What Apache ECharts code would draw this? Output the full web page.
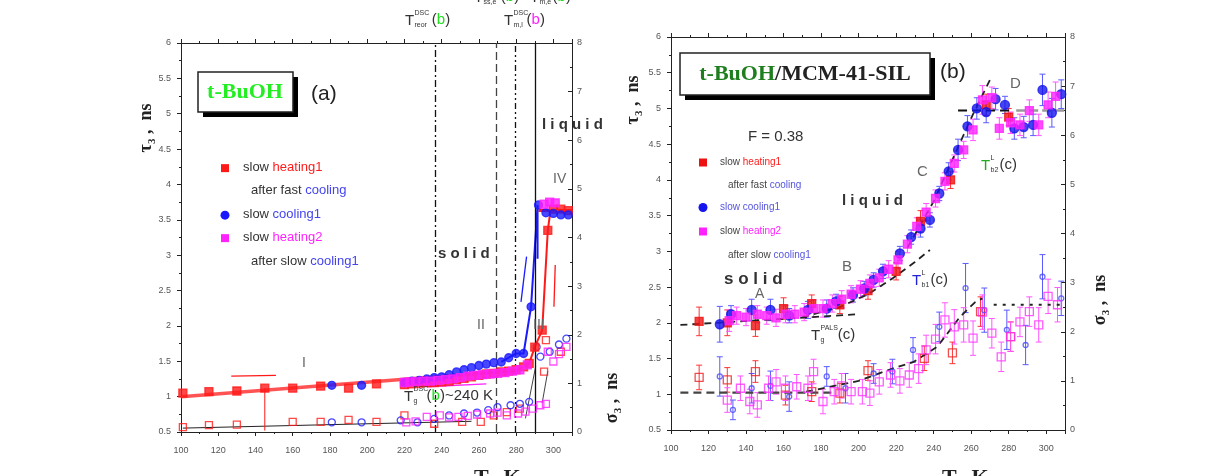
<!DOCTYPE html>
<html>
<head>
<meta charset="utf-8">
<title>t-BuOH PALS</title>
<script src="https://cdn.jsdelivr.net/npm/echarts@6/dist/echarts.min.js"></script>
<style>
  html, body { margin: 0; background: #fff; }
  #chart { width: 1224px; height: 476px; }
</style>
</head>
<body>
<div id="chart"></div>
<script>
// ---------- panel (a): bulk t-BuOH ----------
// tau3 (left axis, ns)
const heat1A_T   = [101, 115, 130, 145, 160, 175, 190, 205, 220, 224, 228, 232, 236, 240, 244, 248, 252, 256, 260, 264, 268, 272, 276, 280, 284, 287, 290, 294, 297, 300, 304, 308];
const heat1A_tau = [1.05, 1.07, 1.08, 1.12, 1.12, 1.15, 1.12, 1.18, 1.17, 1.18, 1.19, 1.2, 1.2, 1.21, 1.22, 1.24, 1.26, 1.28, 1.3, 1.32, 1.33, 1.35, 1.36, 1.38, 1.42, 1.47, 1.7, 1.94, 3.35, 3.65, 3.65, 3.63];
const cool1A_T   = [181, 197, 220, 224, 228, 232, 236, 240, 244, 248, 252, 256, 260, 264, 268, 272, 276, 280, 284, 288, 292, 296, 300, 304, 308];
const cool1A_tau = [1.16, 1.16, 1.2, 1.22, 1.23, 1.25, 1.27, 1.28, 1.31, 1.35, 1.38, 1.41, 1.44, 1.46, 1.48, 1.49, 1.55, 1.61, 1.61, 2.27, 3.71, 3.6, 3.59, 3.57, 3.57];
const heat2A_T   = [220, 223, 226, 230, 234, 238, 242, 246, 250, 254, 258, 262, 266, 270, 274, 278, 282, 286, 295, 298, 301];
const heat2A_tau = [1.2, 1.21, 1.21, 1.22, 1.22, 1.23, 1.24, 1.25, 1.27, 1.29, 1.3, 1.31, 1.32, 1.33, 1.34, 1.36, 1.38, 1.45, 3.72, 3.75, 3.74];
// sigma3 (right axis, ns)
const heat1A_sT  = [101, 115, 130, 160, 175, 190, 205, 220, 236, 251, 261, 268, 275, 282, 295, 296, 304];
const heat1A_sig = [0.1, 0.14, 0.15, 0.21, 0.21, 0.25, 0.21, 0.34, 0.17, 0.21, 0.21, 0.34, 0.41, 0.48, 1.24, 1.89, 1.65];
const cool1A_sT  = [181, 197, 218, 227, 236, 244, 252, 259, 265, 270, 277, 282, 287, 291, 293, 298, 303, 307];
const cool1A_sig = [0.2, 0.2, 0.24, 0.2, 0.27, 0.34, 0.38, 0.4, 0.45, 0.51, 0.55, 0.58, 0.62, 1.75, 1.55, 1.65, 1.8, 1.92];
const heat2A_sT  = [221, 226, 232, 239, 244, 249, 254, 259, 266, 270, 275, 281, 285, 289, 293, 296, 297, 300, 303, 307];
const heat2A_sig = [0.2, 0.22, 0.31, 0.34, 0.3, 0.31, 0.33, 0.36, 0.38, 0.4, 0.34, 0.38, 0.42, 0.48, 0.55, 0.58, 1.65, 1.45, 1.6, 1.75];
// guide lines / fits
const fitA_red   = [[100, 1.0], [280, 1.37]];
const jumpA_red  = [[280, 1.37], [287, 1.47], [290, 1.7], [294, 1.94], [297, 3.35], [298.5, 3.64]];
const liqA_red   = [[292, 3.63], [310, 3.63]];
const jumpA_blue = [[272, 1.49], [280, 1.61], [284, 1.61], [288, 2.27], [291.5, 3.71], [291.5, 2.95]];
const guideA_up  = [[250, 1.3], [281, 1.36]];
const guideA_low = [[101, 0.08], [256, 0.22]];
const jumpA_low1 = [[285, 0.28], [290.5, 1.35]];
const jumpA_low2 = [[294, 0.6], [297, 1.25]];
const vlinesA    = [236.5, 269.4, 279.6, 290.3];
// arrows (start -> end)
const arrowA_red1 = [[127, 1.29], [151, 1.3]];
const arrowA_mag  = [[232, 1.14], [264, 1.18]];
const arrowA_blue = [[285.6, 2.98], [282.6, 2.34]];
const arrowA_red2 = [[300.3, 2.27], [301, 2.86]];
const barA_red    = [[145, 1.12], [145, 0.52]];

// ---------- panel (b): t-BuOH / MCM-41-SIL ----------
const heat1B_T   = [115, 130, 145, 160, 175, 190, 205, 220, 233, 249, 268, 280];
const heat1B_tau = [2.02, 2.0, 1.96, 2.2, 2.27, 2.25, 2.45, 2.72, 3.42, 4.0, 5.05, 4.88];
const heat1B_err = [0.2, 0.18, 0.15, 0.15, 0.12, 0.12, 0.12, 0.12, 0.15, 0.12, 0.15, 0.12];
const cool1B_T   = [126, 132, 143, 153, 163, 173, 183, 188, 197, 203, 208, 213, 222, 228, 233, 238, 243, 248, 253, 258, 263, 268, 273, 278, 283, 288, 293, 298, 303, 308];
const cool1B_tau = [1.98, 2.12, 2.18, 2.18, 2.1, 2.18, 2.2, 2.3, 2.39, 2.48, 2.6, 2.72, 2.97, 3.2, 3.32, 3.44, 3.81, 4.12, 4.42, 4.75, 5.0, 4.95, 5.13, 5.05, 4.72, 4.74, 4.77, 5.26, 4.94, 5.2];
const cool1B_err = [0.25, 0.12, 0.15, 0.15, 0.1, 0.12, 0.12, 0.1, 0.1, 0.1, 0.1, 0.1, 0.1, 0.1, 0.12, 0.1, 0.1, 0.12, 0.15, 0.15, 0.15, 0.15, 0.15, 0.12, 0.15, 0.15, 0.15, 0.22, 0.2, 0.2];
const heat2B_T   = [131, 135, 140, 146, 151, 156, 161, 166, 171, 176, 181, 186, 191, 196, 201, 206, 211, 216, 221, 226, 231, 236, 241, 246, 251, 256, 261, 266, 271, 275, 281, 286, 291, 296, 301, 305];
const heat2B_tau = [2.03, 2.1, 2.08, 2.12, 2.1, 2.07, 2.12, 2.12, 2.15, 2.2, 2.2, 2.27, 2.33, 2.4, 2.47, 2.55, 2.63, 2.75, 2.88, 3.1, 3.35, 3.55, 3.74, 3.98, 4.23, 4.42, 4.7, 5.12, 5.15, 4.72, 4.8, 4.77, 4.97, 4.77, 5.05, 5.17];
const heat2B_err = [0.15, 0.12, 0.12, 0.12, 0.12, 0.12, 0.12, 0.12, 0.12, 0.12, 0.12, 0.12, 0.12, 0.12, 0.12, 0.12, 0.12, 0.12, 0.12, 0.12, 0.12, 0.12, 0.12, 0.12, 0.12, 0.12, 0.15, 0.2, 0.15, 0.15, 0.15, 0.15, 0.15, 0.15, 0.18, 0.2];
const heat1B_sT  = [115, 130, 145, 161, 175, 190, 205, 235, 250, 265, 281];
const heat1B_sig = [1.07, 1.02, 1.19, 0.71, 0.78, 0.75, 1.21, 1.46, 1.57, 2.41, 1.9];
const heat1B_sErr = [0.25, 0.25, 0.22, 0.2, 0.2, 0.2, 0.2, 0.25, 0.22, 0.3, 0.3];
const cool1B_sT  = [126, 133, 143, 153, 163, 183, 193, 208, 218, 229, 243, 257, 267, 279, 289, 298, 308];
const cool1B_sig = [1.09, 0.41, 0.85, 0.9, 0.68, 1.09, 0.85, 1.15, 1.19, 1.63, 2.1, 2.89, 2.44, 2.04, 1.73, 3.12, 2.68];
const cool1B_sErr = [0.4, 0.2, 0.3, 0.3, 0.3, 0.2, 0.3, 0.2, 0.25, 0.25, 0.3, 0.5, 0.45, 0.4, 0.4, 0.45, 0.35];
const heat2B_sT  = [130, 137, 142, 146, 152, 156, 161, 167, 173, 176, 181, 187, 191, 196, 202, 206, 211, 217, 222, 227, 232, 236, 241, 246, 251, 256, 261, 266, 271, 276, 281, 286, 291, 296, 301, 306];
const heat2B_sig = [0.61, 0.85, 0.58, 0.51, 0.85, 0.98, 0.85, 0.88, 0.85, 1.19, 0.58, 0.78, 0.9, 0.78, 0.78, 0.75, 0.98, 1.12, 1.0, 1.12, 1.25, 1.63, 1.85, 2.24, 2.1, 2.14, 1.87, 2.4, 1.97, 1.49, 1.9, 2.2, 2.41, 2.14, 2.72, 2.55];
const heat2B_sErr = [0.25, 0.25, 0.25, 0.25, 0.25, 0.25, 0.25, 0.25, 0.25, 0.25, 0.25, 0.25, 0.25, 0.25, 0.25, 0.25, 0.25, 0.25, 0.25, 0.25, 0.3, 0.3, 0.3, 0.35, 0.35, 0.35, 0.35, 0.35, 0.3, 0.3, 0.3, 0.3, 0.3, 0.35, 0.35, 0.35];
// dashed fits
const fitB_flat   = [[105, 1.97], [200, 2.12]];
const fitB_rise   = [[170, 2.08], [190, 2.22], [205, 2.4], [218, 2.62], [230, 2.85], [238, 3.02]];
const fitB_C      = [[226, 3.05], [240, 3.7], [252, 4.4], [261, 4.92], [270, 5.4]];
const fitB_D1     = [[253, 4.97], [281, 4.97]];
const fitB_D2     = [[284, 4.97], [310, 4.97]];
const fitB_sFlat  = [[105, 0.76], [186, 0.76]];
const fitB_sRise  = [[172, 0.78], [200, 1.0], [218, 1.25], [229, 1.38], [242, 1.7], [254, 2.3], [262, 2.6], [266, 2.68]];
const fitB_sTop   = [[272, 2.55], [310, 2.55]];

// ticks
const T_MIN = 100, T_MAX = 310, T_STEP = 20;
const TAU_MIN = 0.5, TAU_MAX = 6, TAU_STEP = 0.5;
const SIG_MIN = 0, SIG_MAX = 8, SIG_STEP = 1;

const RED = '#ff1a1a', BLUE = '#1a1aff', MAG = '#ff22ff';
const SANS = 'Liberation Sans', SERIF = 'Liberation Serif';

const zip = (a, b) => a.map((v, i) => [v, b[i]]);
const zip3 = (a, b, c) => a.map((v, i) => [v, b[i], c[i]]);

function xAx(grid, pos, labels) {
  return {
    type: 'value', gridIndex: grid, position: pos, min: T_MIN, max: T_MAX, interval: T_STEP,
    axisLine: { onZero: false, lineStyle: { color: '#222', width: 1 } },
    axisTick: { show: true, length: 4, lineStyle: { color: '#222' } },
    minorTick: { show: true, splitNumber: 2, length: 2, lineStyle: { color: '#222' } },
    axisLabel: { show: labels, fontSize: 9, color: '#555', fontFamily: SANS, margin: 14, showMaxLabel: false },
    splitLine: { show: false }
  };
}
function yAx(grid, pos, min, max, step) {
  const right = pos === 'right';
  return {
    type: 'value', gridIndex: grid, position: pos, min: min, max: max, interval: step,
    axisLine: { show: true, onZero: false, lineStyle: { color: '#222', width: 1 } },
    axisTick: { show: true, inside: right, length: 4, lineStyle: { color: '#222' } },
    minorTick: { show: true, splitNumber: 2, length: 2, lineStyle: { color: '#222' } },
    axisLabel: { fontSize: 9, color: '#555', fontFamily: SANS, margin: right ? 5 : 10 },
    splitLine: { show: false }
  };
}

function dots(data, xi, yi, symbol, color, size) {
  return {
    type: 'scatter', xAxisIndex: xi, yAxisIndex: yi, data: data, symbol: symbol,
    symbolSize: size, itemStyle: { color: color, borderColor: color, borderWidth: 1.3 }, z: 5, silent: true
  };
}
function hollow(data, xi, yi, symbol, color, size) {
  return {
    type: 'scatter', xAxisIndex: xi, yAxisIndex: yi, data: data, symbol: symbol,
    symbolSize: size, itemStyle: { color: 'rgba(255,255,255,0)', borderColor: color, borderWidth: 1.3 }, z: 5, silent: true
  };
}
function line(data, xi, yi, color, width, type) {
  return {
    type: 'line', xAxisIndex: xi, yAxisIndex: yi, data: data, showSymbol: false, symbol: 'none',
    lineStyle: { color: color, width: width, type: type || 'solid' }, z: 3, silent: true
  };
}
function arrows(list, xi, yi) {
  return {
    type: 'line', xAxisIndex: xi, yAxisIndex: yi, data: [], silent: true,
    markLine: {
      silent: true, symbol: ['none', 'arrow'], symbolSize: [0, 8], label: { show: false }, animation: false,
      data: list.map(function (a) {
        return [{ coord: a[0][0], lineStyle: { color: a[1], width: 1.3, type: 'solid' } }, { coord: a[0][1] }];
      })
    }
  };
}
function errBars(data, xi, yi, color) {
  return {
    type: 'custom', xAxisIndex: xi, yAxisIndex: yi, data: data, z: 2, silent: true,
    encode: { x: 0, y: 1 },
    renderItem: function (params, api) {
      const x = api.value(0), y = api.value(1), e = api.value(2);
      const p1 = api.coord([x, y + e]), p2 = api.coord([x, y - e]);
      const st = { stroke: color, lineWidth: 1 };
      return {
        type: 'group', children: [
          { type: 'line', shape: { x1: p1[0], y1: p1[1], x2: p2[0], y2: p2[1] }, style: st },
          { type: 'line', shape: { x1: p1[0] - 3, y1: p1[1], x2: p1[0] + 3, y2: p1[1] }, style: st },
          { type: 'line', shape: { x1: p2[0] - 3, y1: p2[1], x2: p2[0] + 3, y2: p2[1] }, style: st }
        ]
      };
    }
  };
}

// text helpers (annotations only)
function txt(x, y, text, size, color, extra) {
  return { type: 'text', x: x, y: y, z: 50, silent: true,
    style: Object.assign({ text: text, fontSize: size, fill: color, fontFamily: SANS }, extra || {}) };
}
function tSym(x, y, sup, sub, tail, tColor, tailRich) {
  const w = Math.max(sup.length, sub.length) * 4.2 + 10;
  return [
    txt(x, y, 'T', 15, tColor),
    txt(x + 9.5, y - 3, sup, 7, '#333'),
    txt(x + 9.5, y + 9, sub, 7, '#333'),
    txt(x + w, y - 1, tail, 15, '#333', tailRich ? { rich: tailRich } : {})
  ];
}
function legend(x, y, sym, color, rows, size, gap) {
  const out = [];
  if (sym === 'circle') out.push({ type: 'circle', shape: { cx: x, cy: y + size * 0.55, r: 4.5 }, style: { fill: color }, z: 50 });
  else out.push({ type: 'rect', shape: { x: x - 4, y: y + size * 0.55 - 4, width: 8, height: 8 }, style: { fill: color }, z: 50 });
  rows.forEach(function (r, i) {
    out.push(txt(x + r[0], y + i * gap, r[1], size, '#333', { rich: r[2] }));
  });
  return out;
}
function titleBox(x, y, w, h) {
  return [
    { type: 'rect', shape: { x: x + 5, y: y + 5, width: w, height: h }, style: { fill: '#000' }, z: 40 },
    { type: 'rect', shape: { x: x, y: y, width: w, height: h }, style: { fill: '#fff', stroke: '#222', lineWidth: 1.5 }, z: 41 }
  ];
}
function axTitle(x, y, sym, color) {
  return { type: 'text', x: x, y: y, rotation: Math.PI / 2, z: 50, silent: true,
    style: { text: '{a|' + sym + '}{s|3}{a| ,  ns}', fill: color, textAlign: 'center', textVerticalAlign: 'middle',
      rich: { a: { fontSize: 18, fontWeight: 'bold', fontFamily: SERIF, fill: color, lineHeight: 24 },
              s: { fontSize: 11, fontWeight: 'bold', fontFamily: SERIF, fill: color, lineHeight: 24, verticalAlign: 'bottom' } } } };
}

const lg = { k: { fill: '#333' }, r: { fill: RED }, b: { fill: '#4444ee' }, m: { fill: MAG } };
const lgS = { k: { fill: '#444', fontSize: 10 }, r: { fill: RED, fontSize: 10 }, b: { fill: '#5555dd', fontSize: 10 }, m: { fill: MAG, fontSize: 10 } };

const vStyles = [
  { color: '#111', width: 1.3, type: [7, 3, 2, 3] },
  { color: '#444', width: 1.3, type: [8, 4] },
  { color: '#111', width: 1.3, type: [6, 3, 2, 3, 2, 3] },
  { color: '#111', width: 1.3, type: 'solid' }
];

const option = {
  animation: false,
  backgroundColor: '#fff',
  grid: [
    { left: 181, top: 43, width: 391, height: 389 },
    { left: 671, top: 37, width: 394, height: 393 }
  ],
  xAxis: [xAx(0, 'bottom', true), xAx(0, 'top', false), xAx(1, 'bottom', true), xAx(1, 'top', false)],
  yAxis: [
    yAx(0, 'left', TAU_MIN, TAU_MAX, TAU_STEP), yAx(0, 'right', SIG_MIN, SIG_MAX, SIG_STEP),
    yAx(1, 'left', TAU_MIN, TAU_MAX, TAU_STEP), yAx(1, 'right', SIG_MIN, SIG_MAX, SIG_STEP)
  ],
  series: [
    // ----- panel a -----
    line(fitA_red, 0, 0, 'rgba(255,40,40,0.8)', 3.5),
    line(jumpA_red, 0, 0, RED, 2),
    line(liqA_red, 0, 0, RED, 3),
    line(jumpA_blue, 0, 0, BLUE, 2),
    line(guideA_up, 0, 0, '#222', 1),
    line(guideA_low, 0, 1, '#222', 1),
    line(jumpA_low1, 0, 1, '#444', 1),
    line(jumpA_low2, 0, 1, '#444', 1),
    line(barA_red, 0, 0, RED, 1),
    {
      type: 'line', xAxisIndex: 0, yAxisIndex: 0, data: [], silent: true,
      markLine: {
        silent: true, symbol: 'none', label: { show: false }, animation: false,
        data: vlinesA.map(function (v, i) { return { xAxis: v, lineStyle: vStyles[i] }; })
      }
    },
    arrows([[arrowA_red1, RED], [arrowA_mag, MAG], [arrowA_blue, BLUE], [arrowA_red2, RED]], 0, 0),
    hollow(zip(heat1A_sT, heat1A_sig), 0, 1, 'rect', RED, 7),
    hollow(zip(cool1A_sT, cool1A_sig), 0, 1, 'circle', BLUE, 7),
    hollow(zip(heat2A_sT, heat2A_sig), 0, 1, 'rect', MAG, 7),
    dots(zip(heat1A_T, heat1A_tau), 0, 0, 'rect', RED, 8),
    dots(zip(cool1A_T, cool1A_tau), 0, 0, 'circle', BLUE, 8),
    dots(zip(heat2A_T, heat2A_tau), 0, 0, 'rect', MAG, 8),

    // ----- panel b -----
    line(fitB_flat, 2, 2, '#222', 1.8, [7, 5]),
    line(fitB_rise, 2, 2, '#222', 1.8, [7, 5]),
    line(fitB_C, 2, 2, '#222', 1.8, [7, 5]),
    line(fitB_D1, 2, 2, '#111', 2, [9, 5]),
    line(fitB_D2, 2, 2, '#999', 2.5, [9, 4]),
    line(fitB_sFlat, 2, 3, '#444', 2.2, [8, 5]),
    line(fitB_sRise, 2, 3, '#222', 1.8, [7, 5]),
    line(fitB_sTop, 2, 3, '#222', 2, [3, 6]),
    errBars(zip3(heat1B_sT, heat1B_sig, heat1B_sErr), 2, 3, '#ff3333'),
    errBars(zip3(cool1B_sT, cool1B_sig, cool1B_sErr), 2, 3, '#5a5aff'),
    errBars(zip3(heat2B_sT, heat2B_sig, heat2B_sErr), 2, 3, '#ff55ff'),
    hollow(zip(heat1B_sT, heat1B_sig), 2, 3, 'rect', '#ee2222', 8),
    hollow(zip(cool1B_sT, cool1B_sig), 2, 3, 'circle', '#4848ff', 5),
    hollow(zip(heat2B_sT, heat2B_sig), 2, 3, 'rect', '#ff33ff', 8),
    errBars(zip3(heat1B_T, heat1B_tau, heat1B_err), 2, 2, '#ff3333'),
    errBars(zip3(cool1B_T, cool1B_tau, cool1B_err), 2, 2, '#5a5aff'),
    errBars(zip3(heat2B_T, heat2B_tau, heat2B_err), 2, 2, '#ff55ff'),
    dots(zip(heat1B_T, heat1B_tau), 2, 2, 'rect', '#ee1111', 8),
    dots(zip(cool1B_T, cool1B_tau), 2, 2, 'circle', '#1515ee', 9),
    dots(zip(heat2B_T, heat2B_tau), 2, 2, 'rect', '#ff22ff', 8)
  ],
  graphic: [].concat(
    // panel a annotations
    titleBox(198, 72, 95, 40),
    [txt(245, 92, 't-BuOH', 22, '#22ee22', { fontFamily: SERIF, fontWeight: 'bold', textAlign: 'center', textVerticalAlign: 'middle' }),
     txt(311, 84, '(a)', 21, '#222')],
    legend(225, 161, 'rect', RED, [[18, '{k|slow }{r|heating1}', lg], [26, '{k|after fast }{b|cooling}', lg]], 13, 23),
    legend(225, 208, 'circle', BLUE, [[18, '{k|slow }{b|cooling1}', lg]], 13, 23),
    legend(225, 231, 'rect', MAG, [[18, '{k|slow }{m|heating2}', lg], [26, '{k|after slow }{b|cooling1}', lg]], 13, 24),
    [txt(302, 356, 'I', 14, '#666'),
     txt(477, 318, 'II', 14, '#666'),
     txt(533, 318, 'III', 14, '#666'),
     txt(553, 172, 'IV', 14, '#666'),
     txt(438, 246, 's o l i d', 15, '#333', { fontWeight: 'bold' }),
     txt(542, 117, 'l i q u i d', 15, '#333', { fontWeight: 'bold' }),
     txt(474, 467, 'T,  K', 22, '#222', { fontFamily: SERIF, fontWeight: 'bold' })],
    tSym(404, 389, 'DSC', 'g', '({g|b})~240 K', '#333', { g: { fill: '#22dd22', fontSize: 15 } }),
    tSym(405, 13, 'DSC', 'reor', '({g|b})', '#333', { g: { fill: '#22dd22', fontSize: 15 } }),
    tSym(504, 13, 'DSC', 'm,l', '({m|b})', '#333', { m: { fill: MAG, fontSize: 15 } }),
    tSym(474, -10, '', 'ss,e', '({g|b})', '#333', { g: { fill: '#22dd22', fontSize: 15 } }),
    tSym(530, -10, '', 'm,e', '({g|b})', '#333', { g: { fill: '#22dd22', fontSize: 15 } }),
    [axTitle(146, 128, '\u03c4', '#222'), axTitle(612, 398, '\u03c3', '#222')],

    // panel b annotations
    titleBox(680, 53, 250, 42),
    [txt(805, 74, '{g|t-BuOH}{k|/MCM-41-SIL}', 22, '#222', { fontFamily: SERIF, fontWeight: 'bold', textAlign: 'center', textVerticalAlign: 'middle',
      rich: { g: { fill: '#1f7f1f', fontFamily: SERIF, fontWeight: 'bold', fontSize: 22 }, k: { fill: '#222', fontFamily: SERIF, fontWeight: 'bold', fontSize: 22 } } }),
     txt(940, 62, '(b)', 21, '#222'),
     txt(1010, 76, 'D', 15, '#666'),
     txt(917, 164, 'C', 15, '#666'),
     txt(842, 259, 'B', 15, '#666'),
     txt(755, 287, 'A', 14, '#666'),
     txt(748, 129, 'F = 0.38', 15, '#333'),
     txt(842, 193, 'l i q u i d', 15, '#333', { fontWeight: 'bold' }),
     txt(724, 271, 's o l i d', 17, '#333', { fontWeight: 'bold' }),
     txt(942, 467, 'T,  K', 22, '#222', { fontFamily: SERIF, fontWeight: 'bold' })],
    legend(703, 157, 'rect', '#ee1111', [[17, '{k|slow }{r|heating1}', lgS], [25, '{k|after fast }{b|cooling}', lgS]], 10, 23),
    legend(703, 202, 'circle', '#1515ee', [[17, '{b|slow cooling1}', lgS]], 10, 23),
    legend(703, 226, 'rect', MAG, [[17, '{k|slow }{m|heating2}', lgS], [25, '{k|after slow }{b|cooling1}', lgS]], 10, 24),
    tSym(981, 158, 'L', 'b2', '(c)', '#22aa22', null),
    tSym(912, 273, 'L', 'b1', '(c)', '#2222dd', null),
    tSym(811, 328, 'PALS', 'g', '(c)', '#333', null),
    [axTitle(633, 100, '\u03c4', '#222'), axTitle(1100, 300, '\u03c3', '#222')]
  )
};

const chart = echarts.init(document.getElementById('chart'), null, { renderer: 'canvas' });
chart.setOption(option);
</script>
</body>
</html>
